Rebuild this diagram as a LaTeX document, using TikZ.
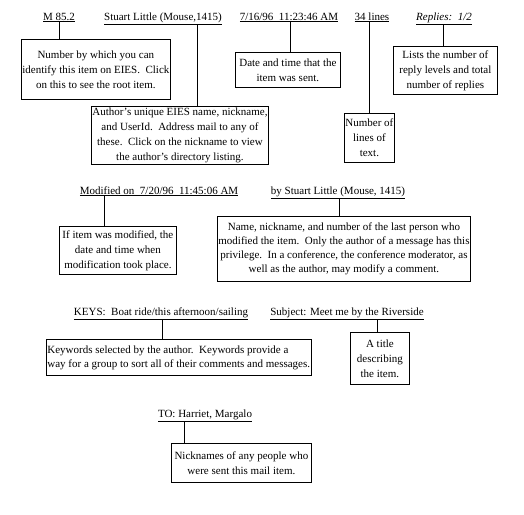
\documentclass[tikz,border=0pt]{standalone}
\usepackage{fontspec}
\setmainfont{Liberation Serif}
\usetikzlibrary{positioning}
\tikzset{
	field/.style={inner sep=0pt, anchor=base, font=\fontsize{11}{14}\selectfont},
	note/.style={draw, line width=0.8pt, anchor=north west, inner sep=1pt, align=center, font=\fontsize{11}{15}\selectfont},
	lead/.style={line width=0.8pt}
}

\begin{document}
\begin{tikzpicture}[x=1pt, y=-1pt]
			%%%%% START %%%%%
			\useasboundingbox (0, 0) rectangle (524, 514);
			
			% header fields
			\node[field] (msgno) at (59, 20) {\underline{M 85.2}};
			\node[field] (author) at (163, 20) {\underline{Stuart Little (Mouse,1415)}};
			\node[field] (stamp) at (289, 20) {\underline{7/16/96~~11:23:46 AM}};
			\node[field] (lines) at (372, 20) {\underline{34 lines}};
			\node[field] (replies) at (444, 20) {\underline{\textit{Replies:~~1/2}}};
			
			\node[note, minimum width=149, minimum height=60] (msgnote) at (21, 39) {Number by which you can\\identify this item on EIES.~~Click\\on this to see the root item.};
			\node[note, minimum width=173, minimum height=58] (authnote) at (91, 106) {Author’s unique EIES name, nickname,\\and UserId.~~Address mail to any of\\these.~~Click on the nickname to view\\the author’s directory listing.};
			\node[note, minimum width=105, minimum height=35] (stampnote) at (235, 52) {Date and time that the\\item was sent.};
			\node[note, minimum width=43, minimum height=49] (linesnote) at (344, 113) {Number of\\lines of\\text.};
			\node[note, minimum width=104, minimum height=48] (replynote) at (393, 46) {Lists the number of\\reply levels and total\\number of replies};
			
			\draw[lead] (msgno.south) -- (msgno.south |- msgnote.north);
			\draw[lead] ([xshift=34]author.south) -- ([xshift=34]author.south |- authnote.north);
			\draw[lead] ([xshift=1]stamp.south) -- ([xshift=1]stamp.south |- stampnote.north);
			\draw[lead] ([xshift=-3]lines.south) -- ([xshift=-3]lines.south |- linesnote.north);
			\draw[lead] ([xshift=-1]replies.south) -- ([xshift=-1]replies.south |- replynote.north);
			
			% modification fields
			\node[field] (modon) at (159, 194) {\underline{Modified on~~7/20/96~~11:45:06 AM}};
			\node[field] (modby) at (338, 194) {\underline{by Stuart Little (Mouse, 1415)}};
			
			\node[note, minimum width=117, minimum height=48] (modonnote) at (59, 226) {If item was modified, the\\date and time when\\modification took place.};
			\node[note, minimum width=253, minimum height=65, font=\fontsize{11}{14}\selectfont] (modbynote) at (217, 216) {Name, nickname, and number of the last person who\\modified the item.~~Only the author of a message has this\\privilege.~~In a conference, the conference moderator, as\\well as the author, may modify a comment.};
			
			\draw[lead] ([xshift=-55]modon.south) -- ([xshift=-55]modon.south |- modonnote.north);
			\draw[lead] ([xshift=1]modby.south) -- ([xshift=1]modby.south |- modbynote.north);
			
			% keys and subject
			\node[field] (keys) at (161, 315) {\underline{KEYS:~~Boat ride/this afternoon/sailing}};
			\node[field] (subject) at (347, 315) {\underline{Subject: Meet me by the Riverside}};
			
			\node[note, minimum width=259, minimum height=36, align=left, font=\fontsize{11}{14}\selectfont] (keysnote) at (46, 339) {Keywords selected by the author.~~Keywords provide a\\way for a group to sort all of their comments and messages.};
			\node[note, minimum width=59, minimum height=52] (subjnote) at (350, 332) {A title\\describing\\the item.};
			
			\draw[lead] ([xshift=1]keys.south) -- ([xshift=1]keys.south |- keysnote.north);
			\draw[lead] ([xshift=30]subject.south) -- ([xshift=30]subject.south |- subjnote.north);
			
			% recipients
			\node[field] (to) at (205, 417) {\underline{TO: Harriet, Margalo}};
			\node[note, minimum width=140, minimum height=39] (tonote) at (171, 443) {Nicknames of any people who\\were sent this mail item.};
			
			\draw[lead] ([xshift=-21]to.south) -- ([xshift=-21]to.south |- tonote.north);
			%%%%% END %%%%%
\end{tikzpicture}
\end{document}
